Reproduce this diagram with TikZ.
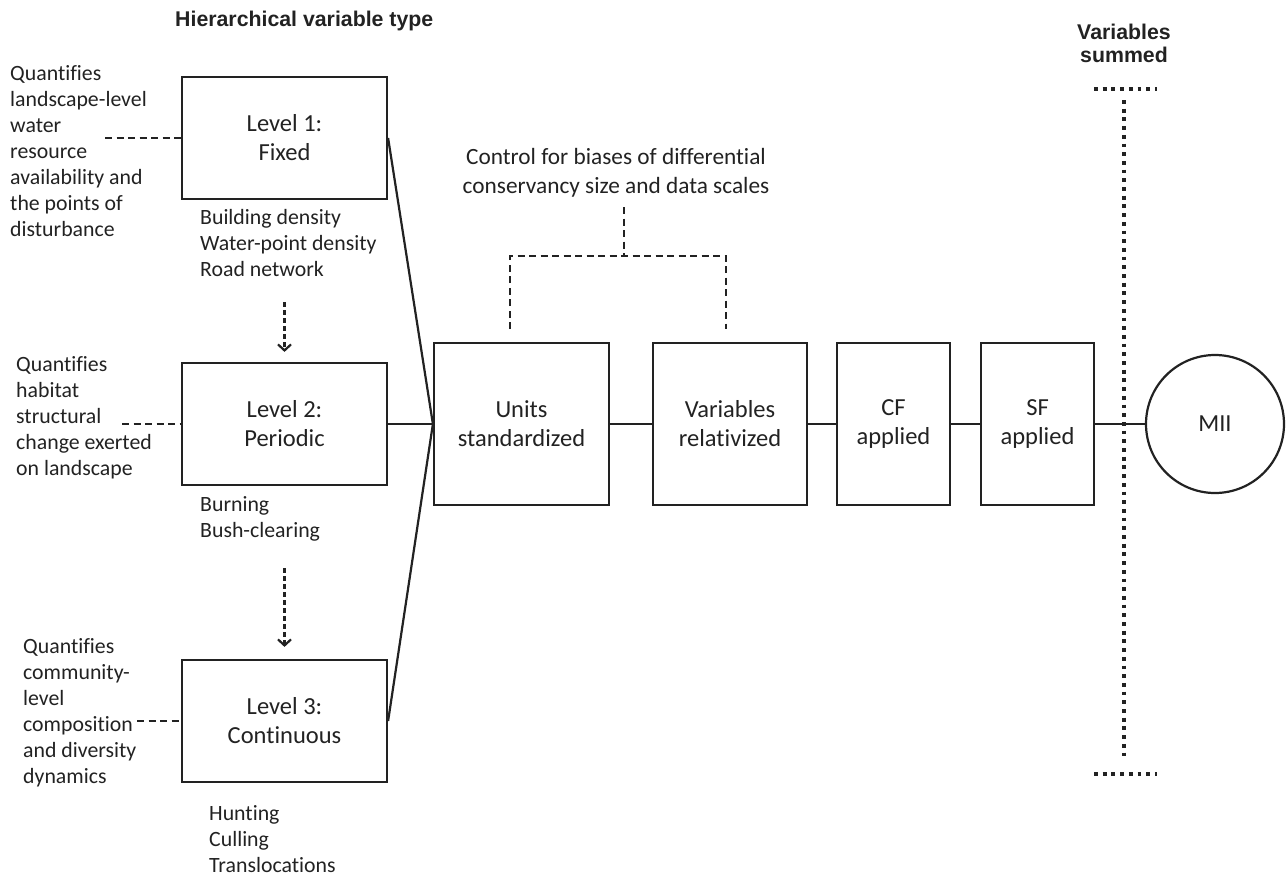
\documentclass[tikz,border=0pt]{standalone}
\usepackage{fontspec}
\setmainfont{Carlito}[Ligatures=NoCommon]
\newfontfamily\hdrfont{Liberation Sans}
\usetikzlibrary{arrows.meta}
\definecolor{ink}{HTML}{222222}
\begin{document}
\begin{tikzpicture}[x=1pt,y=-1pt,
  box/.style={draw=ink, line width=2.2pt, inner sep=0pt, align=center,
    font=\fontsize{24.5}{29}\selectfont, text=ink},
  lvl/.style={box, minimum width=205pt, minimum height=122pt},
  mid/.style={box, minimum height=162pt},
  note/.style={inner sep=0pt, align=left, anchor=north west,
    font=\fontsize{21.8}{26}\selectfont, text=ink},
  conn/.style={draw=ink, line width=2.2pt},
  dashconn/.style={draw=ink, line width=2.2pt, dash pattern=on 7pt off 4.5pt},
  darrow/.style={draw=ink, line width=2.2pt, dash pattern=on 5pt off 3pt,
    -{Straight Barb[length=6pt,width=13pt,line width=2.2pt]}},
  dotline/.style={draw=ink, line width=3.8pt, dash pattern=on 3.8pt off 4.9pt},
  hdr/.style={inner sep=0pt, font=\hdrfont\bfseries\fontsize{21.3}{23}\selectfont, text=ink}
]
\useasboundingbox (0,0) rectangle (1288,876);

% headers
\node[hdr, anchor=base west] (h1) at (175,26) {Hierarchical variable type};
\node[hdr, anchor=north, align=center] (h2) at (1124,24) {Variables\\summed};

% level boxes
\node[lvl] (l1) at (284.5,138) {Level 1:\\Fixed};
\node[lvl] (l2) at (284.5,424) {Level 2:\\Periodic};
\node[lvl] (l3) at (284.5,721) {Level 3:\\Continuous};

% left descriptions
\node[note] (q1) at (10,65) {Quantifies\\landscape-level\\water\\resource\\availability and\\the points of\\disturbance};
\node[note] (q2) at (16,356) {Quantifies\\habitat\\structural\\change exerted\\on landscape};
\node[note] (q3) at (23,638) {Quantifies\\community-\\level\\composition\\and diversity\\dynamics};

% examples
\node[note] (e1) at (200,209) {Building density\\Water-point density\\Road network};
\node[note] (e2) at (200,496) {Burning\\Bush-clearing};
\node[note] (e3) at (209,805) {Hunting\\Culling\\Translocations};

% processing boxes
\node[mid, minimum width=175pt] (u) at (521.5,424) {Units\\standardized};
\node[mid, minimum width=154pt] (v) at (730,424) {Variables\\relativized};
\node[mid, minimum width=113pt] (cf) at (893.5,424) {CF\\applied};
\node[mid, minimum width=113pt] (sf) at (1037.5,424) {SF\\applied};
\node[box, circle, minimum size=138pt] (mii) at (1215,424) {MII};

% control note
\node[inner sep=0pt, align=center, anchor=north, text=ink,
  font=\fontsize{23.3}{29}\selectfont] (ctl) at (616,148) {Control for biases of differential\\conservancy size and data scales};

% solid connectors
\draw[conn] (l1.east) -- (u.west);
\draw[conn] (l2.east) -- (u.west);
\draw[conn] (l3.east) -- (u.west);
\draw[conn] (u.east) -- (v.west);
\draw[conn] (v.east) -- (cf.west);
\draw[conn] (cf.east) -- (sf.west);
\draw[conn] (sf.east) -- (mii.west);

% dashed connectors from descriptions
\coordinate (d1) at (105,138);
\coordinate (d2) at (122,424);
\coordinate (d3) at (137,721);
\draw[dashconn] (d1) -- (l1.west);
\draw[dashconn] (d2) -- (l2.west);
\draw[dashconn] (d3) -- (l3.west);

% dashed arrows between levels
\coordinate (a1) at (284.5,302);
\coordinate (a2) at (284.5,568);
\draw[darrow, shorten >=10pt] (a1) -- (l2.north);
\draw[darrow, shorten >=12pt] (a2) -- (l3.north);

% control bracket
\coordinate (c0) at (624,207);
\coordinate (c1) at (624,256);
\coordinate (cl) at (510,256);
\coordinate (cr) at (726,256);
\coordinate (cld) at (510,329);
\coordinate (crd) at (726,329);
\draw[dashconn] (c0) -- (c1);
\draw[dashconn] (cld) -- (cl) -- (cr) -- (crd);

% variables summed dotted line
\coordinate (s1) at (1124,100);
\coordinate (s2) at (1124,761);
\coordinate (t1) at (1094,89);
\coordinate (t2) at (1157,89);
\coordinate (b1) at (1094,774);
\coordinate (b2) at (1157,774);
\draw[dotline] (s1) -- (s2);
\draw[dotline] (t1) -- (t2);
\draw[dotline] (b1) -- (b2);
\end{tikzpicture}
\end{document}
